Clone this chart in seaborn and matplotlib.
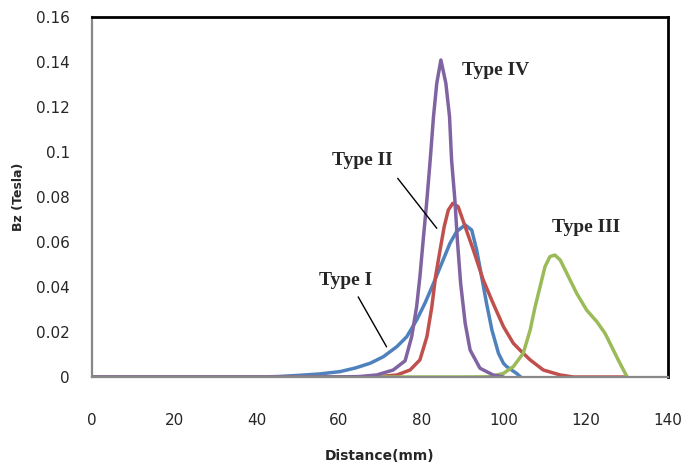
import pandas as pd
import numpy as np
import matplotlib.pyplot as plt
import seaborn as sns

# ---- DATA ----
type1_x = [0, 40, 45, 50, 55, 60.3, 64, 67.6, 70.8, 74.1, 76.5, 78.9, 80.9, 83.0, 85.0, 87.0, 88.6, 90.7,
           92.3, 93.5, 94.7, 95.9, 97.2, 98.8, 100.0, 100.8, 103.2, 104.2]
type1_y = [0, 0, 0.0002, 0.0007, 0.0013, 0.0024, 0.0040, 0.0061, 0.0090, 0.0135, 0.0179, 0.0253, 0.0327,
           0.0416, 0.0505, 0.0594, 0.0646, 0.0676, 0.0653, 0.0564, 0.0446, 0.0327, 0.0209, 0.0105, 0.0061,
           0.0046, 0.0016, 0]

type2_x = [0, 60, 70, 74.1, 77.3, 79.7, 81.4, 82.6, 83.5, 84.6, 85.6, 86.6, 87.7, 89.0, 90.7, 92.7, 95.1,
           97.5, 100.0, 102.4, 104.0, 106.5, 109.7, 113.8, 117, 130]
type2_y = [0, 0, 0.0002, 0.0009, 0.0031, 0.0076, 0.0179, 0.0312, 0.0446, 0.0564, 0.0668, 0.0742, 0.0772,
           0.0757, 0.0668, 0.0564, 0.0431, 0.0327, 0.0224, 0.0150, 0.0120, 0.0076, 0.0031, 0.0009, 0, 0]

type3_x = [0, 90, 96.7, 100.0, 102.4, 104.8, 106.5, 107.7, 108.9, 110.1, 111.3, 112.5, 113.8, 115.4, 117.8,
           120.2, 122.7, 124.7, 126.3, 127.9, 129.6, 130.1]
type3_y = [0, 0, 0.0001, 0.0016, 0.0046, 0.0105, 0.0209, 0.0312, 0.0401, 0.0490, 0.0535, 0.0542, 0.0520,
           0.0461, 0.0372, 0.0298, 0.0246, 0.0194, 0.0135, 0.0076, 0.0016, 0]

type4_x = [0, 60, 65, 69.2, 73.2, 76.1, 77.7, 78.9, 79.7, 80.5, 81.4, 82.2, 83.0, 83.8, 84.8, 86.0, 86.9,
           87.4, 88.2, 88.8, 89.6, 90.7, 91.9, 94.3, 97.5, 100]
type4_y = [0, 0, 0.0002, 0.0009, 0.0031, 0.0072, 0.0179, 0.0312, 0.0446, 0.0609, 0.0787, 0.0964, 0.1157,
           0.1306, 0.1409, 0.1306, 0.1157, 0.0964, 0.0787, 0.0609, 0.0416, 0.0239, 0.0120, 0.0039, 0.0009, 0]

series_names = ["Type I", "Type II", "Type III", "Type IV"]
series_colors = ["#4F81BD", "#C0504D", "#9BBB59", "#8064A2"]

x_ticks = [0, 20, 40, 60, 80, 100, 120, 140]
y_ticks = [0, 0.02, 0.04, 0.06, 0.08, 0.1, 0.12, 0.14, 0.16]
y_tick_labels = ["0", "0.02", "0.04", "0.06", "0.08", "0.1", "0.12", "0.14", "0.16"]


def main():
    frames = []
    for name, xs, ys in zip(series_names,
                            [type1_x, type2_x, type3_x, type4_x],
                            [type1_y, type2_y, type3_y, type4_y]):
        frames.append(pd.DataFrame({"Distance": xs, "Bz": ys, "Type": name}))
    df = pd.concat(frames, ignore_index=True)

    sns.set_style("white")
    plt.rcParams["font.family"] = ["DejaVu Sans"]

    fig = plt.figure(figsize=(6.82, 4.63), dpi=100)
    ax = fig.add_axes([92 / 682, 86 / 463, 576 / 682, 360 / 463])

    sns.lineplot(
        data=df, x="Distance", y="Bz", hue="Type",
        hue_order=series_names, palette=series_colors,
        estimator=None, sort=False, linewidth=2.5, legend=False, ax=ax,
    )
    for line in ax.lines:
        line.set_solid_joinstyle("round")
        line.set_solid_capstyle("round")

    ax.set_xlim(0, 140)
    ax.set_ylim(0, 0.16)
    ax.set_xticks(x_ticks)
    ax.set_yticks(y_ticks)
    ax.set_yticklabels(y_tick_labels)
    ax.tick_params(axis="x", length=0, pad=26, labelsize=11)
    ax.tick_params(axis="y", length=0, pad=16, labelsize=11)

    for side in ["left", "bottom"]:
        ax.spines[side].set_color("#888888")
        ax.spines[side].set_linewidth(1.6)
    for side in ["top", "right"]:
        ax.spines[side].set_color("black")
        ax.spines[side].set_linewidth(2.0)

    ax.set_xlabel("Distance(mm)", fontsize=10, fontweight="bold", labelpad=15)
    ax.set_ylabel("Bz (Tesla)", fontsize=9, fontweight="bold", labelpad=8)

    # ---- ANNOTATIONS ----
    lab = dict(fontsize=14, fontweight="bold", family="Liberation Serif",
               ha="center", va="center")
    ax.text(61.7, 0.0427, "Type I", **lab)
    ax.plot([64.7, 71.6], [0.0356, 0.0134], color="black", linewidth=1.0)
    ax.text(65.8, 0.0962, "Type II", **lab)
    ax.plot([74.3, 83.8], [0.0883, 0.0661], color="black", linewidth=1.0)
    ax.text(120.2, 0.0664, "Type III", **lab)
    ax.text(98.2, 0.1363, "Type IV", **lab)

    fig.savefig("out.png", dpi=100)


if __name__ == "__main__":
    main()
